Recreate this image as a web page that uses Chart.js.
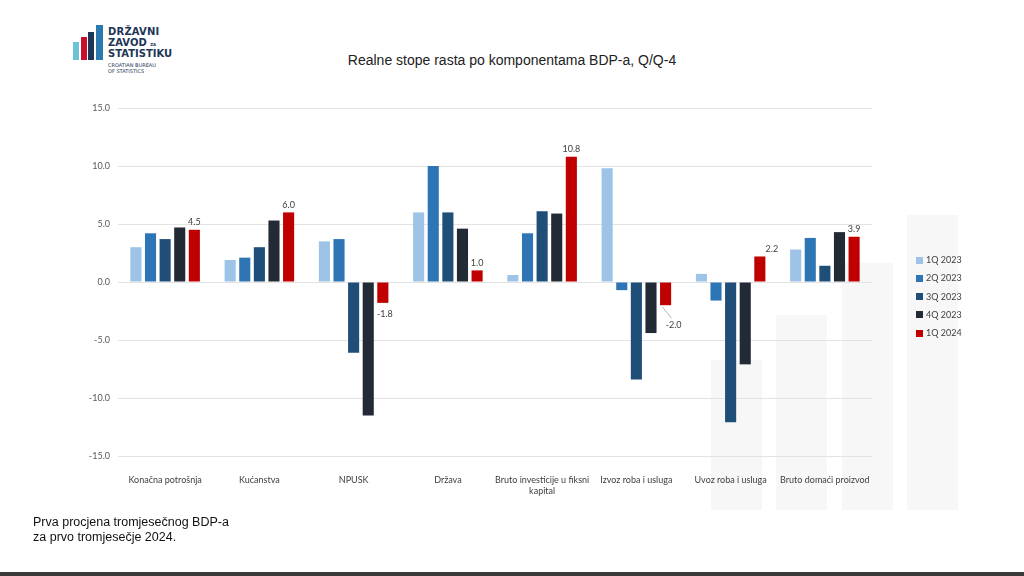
<!DOCTYPE html>
<html>
<head>
<meta charset="utf-8">
<script src="https://cdn.jsdelivr.net/npm/chart.js@4/dist/chart.umd.min.js"></script>
<style>
    body { margin: 0; background: #fff; }
    #page { position: relative; width: 1024px; height: 576px; overflow: hidden; background: #fff; }
    .wm { position: absolute; background: #f7f7f7; }
    #chart { position: absolute; left: 0; top: 0; }
    #title { position: absolute; left: 0; width: 1024px; top: 52px; text-align: center;
        font-family: "Liberation Sans", Arial, sans-serif; font-size: 14px; color: #222; }
    #note { position: absolute; left: 33px; top: 515px; font-family: "Liberation Sans", Arial, sans-serif;
        font-size: 12.5px; line-height: 15px; color: #111; }
    #bottombar { position: absolute; left: 0; top: 572px; width: 1024px; height: 4px; background: #3a3a3a; }
    #legend { position: absolute; left: 916px; top: 253px; font-family: Lato, "Open Sans", sans-serif;
        font-size: 9px; color: #404040; }
    #legend div { height: 18.3px; line-height: 14px; }
    #legend span { display: inline-block; width: 7px; height: 7px; margin-right: 3px; vertical-align: -0.5px; }
    #logo { position: absolute; left: 70px; top: 22px; }
    .lb { position: absolute; }
    .lt { position: absolute; left: 38px; font-family: "DejaVu Sans", sans-serif; font-weight: bold;
        color: #1d3557; white-space: nowrap; }
</style>
</head>
<body>
<div id="page">
    <div class="wm" style="left:711px; top:360px; width:51px; height:150px;"></div>
    <div class="wm" style="left:776px; top:315px; width:51px; height:195px;"></div>
    <div class="wm" style="left:842px; top:263px; width:51px; height:247px;"></div>
    <div class="wm" style="left:907px; top:215px; width:51px; height:295px;"></div>

    <div id="logo">
        <div class="lb" style="left:3px; top:20px; width:6px; height:18px; background:#6cc3d5;"></div>
        <div class="lb" style="left:11px; top:15px; width:6px; height:23px; background:#c8102e;"></div>
        <div class="lb" style="left:18px; top:10px; width:6px; height:28px; background:#1d3557;"></div>
        <div class="lb" style="left:26px; top:3px; width:7px; height:35px; background:#2a7ab0;"></div>
        <div class="lt" style="top:4px; font-size:10px; letter-spacing:0.2px;">DRŽAVNI</div>
        <div class="lt" style="top:15px; font-size:10px;">ZAVOD <span style="font-size:4px;">ZA</span></div>
        <div class="lt" style="top:26px; font-size:10px;">STATISTIKU</div>
        <div class="lt" style="top:40px; font-size:5px; font-weight:normal;">CROATIAN BUREAU</div>
        <div class="lt" style="top:46px; font-size:5px; font-weight:normal;">OF STATISTICS</div>
    </div>

    <div id="title">Realne stope rasta po komponentama BDP-a, Q/Q-4</div>
    <canvas id="chart" width="1024" height="576"></canvas>
    <div id="legend"></div>
    <div id="note">Prva procjena tromjesečnog BDP-a<br>za prvo tromjesečje 2024.</div>
    <div id="bottombar"></div>
</div>

<script>
var categories = [
    'Konačna potrošnja',
    'Kućanstva',
    'NPUSK',
    'Država',
    ['Bruto investicije u fiksni', 'kapital'],
    'Izvoz roba i usluga',
    'Uvoz roba i usluga',
    'Bruto domaći proizvod'
];

var seriesNames = ['1Q 2023', '2Q 2023', '3Q 2023', '4Q 2023', '1Q 2024'];
var seriesColors = ['#9dc3e6', '#2e75b6', '#1f4e79', '#222a35', '#c00000'];

var q1_2023 = [3.0, 1.9, 3.5, 6.0, 0.6, 9.8, 0.7, 2.8];
var q2_2023 = [4.2, 2.1, 3.7, 10.0, 4.2, -0.7, -1.6, 3.8];
var q3_2023 = [3.7, 3.0, -6.1, 6.0, 6.1, -8.4, -12.1, 1.4];
var q4_2023 = [4.7, 5.3, -11.5, 4.6, 5.9, -4.4, -7.1, 4.3];
var q1_2024 = [4.5, 6.0, -1.8, 1.0, 10.8, -2.0, 2.2, 3.9];

var yTicks = [-15, -10, -5, 0, 5, 10, 15];

var allSeries = [q1_2023, q2_2023, q3_2023, q4_2023, q1_2024];

// value labels only for the last quarter, small nudges like in the original
var labelNudge = { 5: [6, 8, true], 6: [12, 0] };

var lastLabels = {
    id: 'lastLabels',
    afterDatasetsDraw: function(chart) {
        var ctx = chart.ctx;
        var meta = chart.getDatasetMeta(4);
        ctx.save();
        ctx.font = '9px Lato, "Open Sans", sans-serif';
        ctx.fillStyle = '#404040';
        ctx.textAlign = 'center';
        meta.data.forEach(function(bar, i) {
            var v = q1_2024[i];
            var n = labelNudge[i] || [0, 0];
            var txt = v.toFixed(1);
            if (v >= 0) {
                ctx.textBaseline = 'bottom';
                ctx.fillText(txt, bar.x + n[0], bar.y - 3 - n[1]);
            } else {
                ctx.textBaseline = 'top';
                var x = bar.x + 2 + n[0];
                var y = bar.y + 7 + n[1];
                if (n[2]) {
                    ctx.strokeStyle = '#a6a6a6';
                    ctx.lineWidth = 0.8;
                    ctx.beginPath();
                    ctx.moveTo(bar.x - 3, bar.y + 2);
                    ctx.lineTo(x - 2, y - 2);
                    ctx.stroke();
                }
                ctx.fillText(txt, x, y);
            }
        });
        ctx.restore();
    }
};

var datasets = seriesNames.map(function(name, i) {
    return {
        label: name,
        data: allSeries[i],
        backgroundColor: seriesColors[i],
        barPercentage: 0.76,
        categoryPercentage: 0.775
    };
});

var ctx = document.getElementById('chart');
var myChart = new Chart(ctx, {
    type: 'bar',
    data: {
        labels: categories,
        datasets: datasets
    },
    options: {
        responsive: false,
        animation: false,
        layout: {
            padding: { left: 78, right: 152, top: 108, bottom: 80 }
        },
        plugins: {
            legend: { display: false },
            tooltip: { enabled: false }
        },
        scales: {
            x: {
                grid: { display: false },
                border: { display: false },
                ticks: {
                    autoSkip: false,
                    maxRotation: 0,
                    padding: 11,
                    color: '#404040',
                    font: { family: 'Lato, "Open Sans", sans-serif', size: 9 }
                },
                afterFit: function(scale) { scale.height = 40; }
            },
            y: {
                min: yTicks[0],
                max: yTicks[yTicks.length - 1],
                afterBuildTicks: function(scale) {
                    scale.ticks = yTicks.map(function(v) { return { value: v }; });
                },
                grid: { color: '#e3e3e3', lineWidth: 1, drawTicks: false },
                border: { display: false },
                ticks: {
                    padding: 8,
                    color: '#595959',
                    font: { family: 'Lato, "Open Sans", sans-serif', size: 9 },
                    callback: function(v) { return v.toFixed(1); }
                },
                afterFit: function(scale) { scale.width = 40; }
            }
        }
    },
    plugins: [lastLabels]
});

// legend on the right
var legend = document.getElementById('legend');
seriesNames.forEach(function(name, i) {
    var row = document.createElement('div');
    row.innerHTML = '<span style="background:' + seriesColors[i] + '"></span>' + name;
    legend.appendChild(row);
});
</script>
</body>
</html>
